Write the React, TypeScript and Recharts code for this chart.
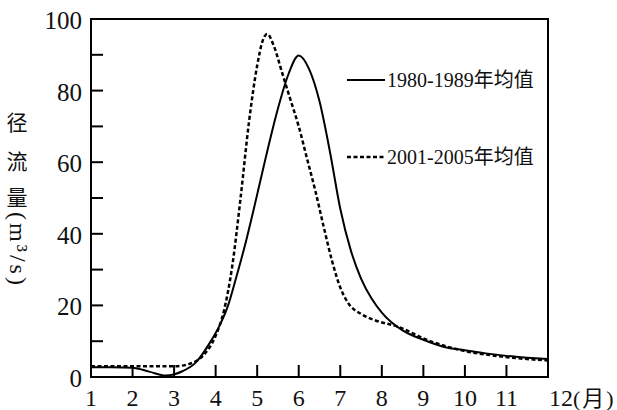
import { LineChart, Line, XAxis, YAxis, ReferenceArea, Customized } from 'recharts';

const SERIF = '"Liberation Serif", "Times New Roman", "Noto Sans CJK SC", serif';
const CJK = '"Noto Sans CJK SC", "Liberation Serif", serif';

const monthTicks = [1, 2, 3, 4, 5, 6, 7, 8, 9, 10, 11, 12];
const flowTicks = [0, 10, 20, 30, 40, 50, 60, 70, 80, 90, 100];

// 1980-1989 average (solid)
const months8089 = [1, 1.5, 2, 2.4, 2.8, 3.2, 3.5, 3.9, 4.1, 4.3, 4.5, 4.7, 4.95, 5.2, 5.5, 5.75, 6, 6.25, 6.5, 6.75, 7, 7.25, 7.5, 7.75, 8, 8.5, 9, 9.5, 10, 10.5, 11, 11.5, 12];
const flow8089 = [2.7, 2.7, 2.6, 1.5, 0.4, 1.6, 3.8, 10.3, 14.5, 20, 28, 36.5, 48.5, 61, 75, 84.5, 89.8, 86, 77, 63, 47, 35.5, 27.5, 22, 18, 13, 10.4, 8.4, 7.5, 6.6, 5.9, 5.4, 5.0];

// 2001-2005 average (dashed)
const months0105 = [1, 2, 3, 3.35, 3.7, 4, 4.2, 4.4, 4.6, 4.8, 5, 5.12, 5.24, 5.4, 5.6, 5.8, 6, 6.2, 6.4, 6.6, 6.8, 7, 7.2, 7.5, 7.8, 8.4, 9.1, 9.9, 10.9, 12];
const flow0105 = [3.0, 3.0, 3.0, 3.6, 6, 11.5, 18.5, 31, 50, 71, 87, 93.5, 95.8, 92.5, 85, 77.5, 70, 61, 52, 42, 32.5, 25, 20.5, 17.6, 16, 14, 10.3, 7.5, 5.7, 4.6];

const legendLabels = ['1980-1989年均值', '2001-2005年均值'];

const series8089 = months8089.map((m, i) => ({ month: m, flow: flow8089[i] }));
const series0105 = months0105.map((m, i) => ({ month: m, flow: flow0105[i] }));

const DASH = '4 2.5';

const XTick = (props: any) => {
  const { x, y, payload } = props;
  const v = payload.value;
  return (
    <g>
      {v > 1 && v < 12 && (
        <line x1={x} y1={y} x2={x} y2={y - 12} stroke="#000" strokeWidth={2} />
      )}
      {v === 12 ? (
        <text x={x + 1} y={y + 29} textAnchor="start" fontFamily={SERIF} fontSize={24} fill="#111">
          12<tspan fontSize={22} letterSpacing={2}>(月)</tspan>
        </text>
      ) : (
        <text x={x} y={y + 29} textAnchor="middle" fontFamily={SERIF} fontSize={24} fill="#111">
          {v}
        </text>
      )}
    </g>
  );
};

const YTick = (props: any) => {
  const { x, y, payload } = props;
  const v = payload.value;
  return (
    <g>
      {v > 0 && v < 100 && (
        <line x1={x} y1={y} x2={x + 12} y2={y} stroke="#000" strokeWidth={2} />
      )}
      {v % 20 === 0 && (
        <text x={x - 9} y={y + 10} textAnchor="end" fontFamily={SERIF} fontSize={25} fill="#111">
          {v}
        </text>
      )}
    </g>
  );
};

const Overlay = () => (
  <g>
    <text x={17} y={130} textAnchor="middle" fontFamily={CJK} fontSize={21} fill="#111">径</text>
    <text x={17} y={169} textAnchor="middle" fontFamily={CJK} fontSize={21} fill="#111">流</text>
    <text x={17} y={205} textAnchor="middle" fontFamily={CJK} fontSize={21} fill="#111">量</text>
    <text
      transform="translate(17, 250) rotate(90)"
      y={7}
      textAnchor="middle"
      fontFamily={SERIF}
      fontSize={24}
      letterSpacing={3}
      fill="#111"
    >
      (m³/s)
    </text>

    <line x1={347} y1={80} x2={385} y2={80} stroke="#000" strokeWidth={2} />
    <text x={387} y={87} fontFamily={SERIF} fontSize={20} fill="#111">{legendLabels[0]}</text>
    <line x1={347} y1={157} x2={385} y2={157} stroke="#000" strokeWidth={2.5} strokeDasharray={DASH} />
    <text x={387} y={164} fontFamily={SERIF} fontSize={20} fill="#111">{legendLabels[1]}</text>
  </g>
);

export default function App() {
  return (
    <div style={{ position: 'absolute', left: 0, top: 0, width: 617, height: 410, background: '#fff' }}>
      <LineChart width={617} height={410} margin={{ top: 19, right: 69, bottom: 0, left: 0 }}>
        <XAxis
          dataKey="month"
          type="number"
          domain={[1, 12]}
          ticks={monthTicks}
          height={33}
          axisLine={false}
          tickLine={false}
          tickSize={0}
          tickMargin={0}
          tick={<XTick />}
          interval={0}
          allowDataOverflow
        />
        <YAxis
          type="number"
          domain={[0, 100]}
          ticks={flowTicks}
          width={91}
          axisLine={false}
          tickLine={false}
          tickSize={0}
          tickMargin={0}
          tick={<YTick />}
          interval={0}
          allowDataOverflow
        />
        <ReferenceArea x1={1} x2={12} y1={0} y2={100} fill="none" stroke="#000" strokeWidth={2} />
        <Line
          data={series8089}
          dataKey="flow"
          type="monotone"
          stroke="#000"
          strokeWidth={2}
          dot={false}
          isAnimationActive={false}
        />
        <Line
          data={series0105}
          dataKey="flow"
          type="monotone"
          stroke="#000"
          strokeWidth={2.5}
          strokeDasharray={DASH}
          dot={false}
          isAnimationActive={false}
        />
        <Customized component={Overlay} />
      </LineChart>
    </div>
  );
}
